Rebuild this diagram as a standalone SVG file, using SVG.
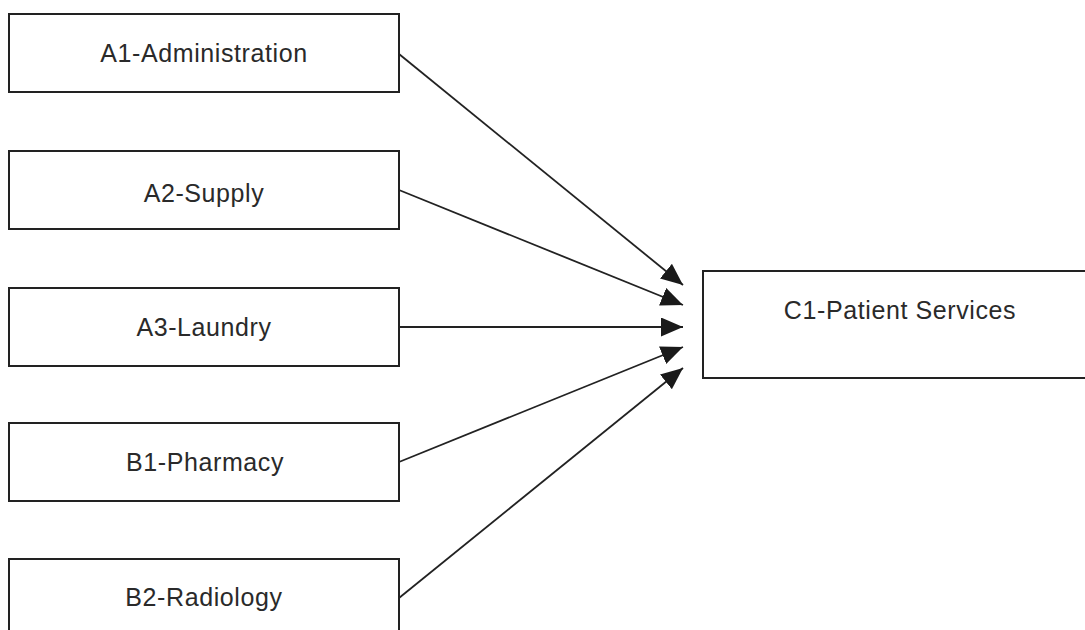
<svg xmlns="http://www.w3.org/2000/svg" width="1085" height="630" viewBox="0 0 1085 630">
<defs>
<style>
.box{fill:#fff;stroke:#222;stroke-width:2}
.lbl{font-family:"Liberation Sans",Arial,sans-serif;font-size:25px;letter-spacing:0.6px;fill:#2a2a2a;text-anchor:middle}
.conn{stroke:#222;stroke-width:1.8;fill:none;marker-end:url(#ah)}
</style>
<marker id="ah" markerUnits="userSpaceOnUse" markerWidth="24" markerHeight="20" refX="22" refY="9.5" orient="auto" viewBox="0 0 24 20">
<path d="M0,0 L22,9.5 L0,19 z" fill="#1a1a1a"/>
</marker>
</defs>
<rect width="1085" height="630" fill="#fff"/>
<g id="A1"><rect class="box" x="9" y="14" width="390" height="78"/><text class="lbl" x="204" y="62">A1-Administration</text></g>
<g id="A2"><rect class="box" x="9" y="151" width="390" height="78"/><text class="lbl" x="204" y="202">A2-Supply</text></g>
<g id="A3"><rect class="box" x="9" y="288" width="390" height="78"/><text class="lbl" x="204" y="336">A3-Laundry</text></g>
<g id="B1"><rect class="box" x="9" y="423" width="390" height="78"/><text class="lbl" x="205" y="471">B1-Pharmacy</text></g>
<g id="B2"><rect class="box" x="9" y="559" width="390" height="78"/><text class="lbl" x="204" y="606">B2-Radiology</text></g>
<g id="C1"><rect class="box" x="703" y="271" width="395" height="107"/><text class="lbl" x="900" y="319">C1-Patient Services</text></g>
<g id="connectors">
<line class="conn" x1="399" y1="54" x2="683" y2="285"/>
<line class="conn" x1="399" y1="190" x2="683" y2="305"/>
<line class="conn" x1="399" y1="327" x2="683" y2="327"/>
<line class="conn" x1="399" y1="462" x2="683" y2="347"/>
<line class="conn" x1="399" y1="598" x2="683" y2="368"/>
</g>
</svg>
